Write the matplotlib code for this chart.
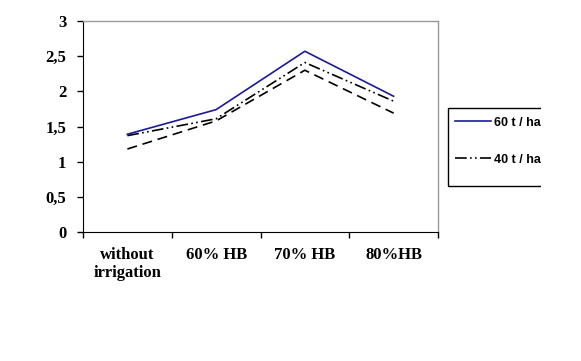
import matplotlib
matplotlib.use("Agg")
import matplotlib.pyplot as plt
from matplotlib.patches import Rectangle
from matplotlib.ticker import FixedLocator, FuncFormatter

categories = ["without\nirrigation", "60% HB", "70% HB", "80%HB"]
y_60 = [1.39, 1.74, 2.57, 1.93]
y_40 = [1.37, 1.61, 2.41, 1.86]
y_20 = [1.18, 1.58, 2.30, 1.69]
labels = ["60 t / ha", "40 t / ha"]

W, H = 581, 361
fig = plt.figure(figsize=(W / 100, H / 100), dpi=100)
ax = fig.add_axes([83 / W, 1 - 232 / H, (438 - 83) / W, (232 - 21) / H])

x = list(range(len(categories)))
l1, = ax.plot(x, y_60, color="#1a1a99", lw=1.2, label=labels[0])
l2, = ax.plot(x, y_40, color="black", lw=1.2,
              dashes=(7, 2, 1, 2, 1, 2), label=labels[1])
l3, = ax.plot(x, y_20, color="black", lw=1.2, dashes=(6, 3.5))

ax.set_xlim(-0.5, len(categories) - 0.5)
ax.set_ylim(0, 3)
ax.set_yticks([0, 0.5, 1, 1.5, 2, 2.5, 3])
ax.yaxis.set_major_formatter(FuncFormatter(lambda v, p: f"{v:g}".replace(".", ",")))

# ticks on category boundaries, labels at centers
ax.xaxis.set_major_locator(FixedLocator([i - 0.5 for i in range(len(categories) + 1)]))
ax.xaxis.set_major_formatter(FuncFormatter(lambda v, p: ""))
ax.xaxis.set_minor_locator(FixedLocator(x))
ax.set_xticklabels(categories, minor=True)
ax.tick_params(axis="x", which="minor", length=0, pad=11)
ax.tick_params(axis="x", which="major", length=4, width=1, direction="out")
ax.tick_params(axis="y", length=4, width=1, direction="out", pad=8)

for lab in ax.get_xticklabels(minor=True) + ax.get_yticklabels():
    lab.set_fontfamily("Liberation Serif")
    lab.set_fontweight("bold")
    lab.set_fontsize(12)
for lab in ax.get_xticklabels(minor=True):
    lab.set_verticalalignment("top")
    lab.set_linespacing(1.15)

for side in ["top", "right"]:
    ax.spines[side].set_color("#9a9a9a")
    ax.spines[side].set_linewidth(1)
ax.spines["left"].set_color("black")
ax.spines["bottom"].set_color("black")

# legend box, clipped at the right like the original
fig.add_artist(Rectangle((448 / W, 1 - 186 / H), 200 / W, 78 / H,
                         transform=fig.transFigure, facecolor="white",
                         edgecolor="black", lw=1))
fig.legend(handles=[l1, l2], labels=labels, frameon=False,
           loc="upper left", bbox_to_anchor=(451 / W, 1 - 113 / H),
           prop={"family": "Liberation Sans", "weight": "bold", "size": 9},
           handlelength=2.9, handletextpad=0.2, labelspacing=2.0,
           borderaxespad=0, borderpad=0.3)
fig.add_artist(Rectangle((541 / W, 0), 1, 1, transform=fig.transFigure,
                         facecolor="white", edgecolor="none", zorder=10))

fig.savefig("out.png", dpi=100, facecolor="white")
